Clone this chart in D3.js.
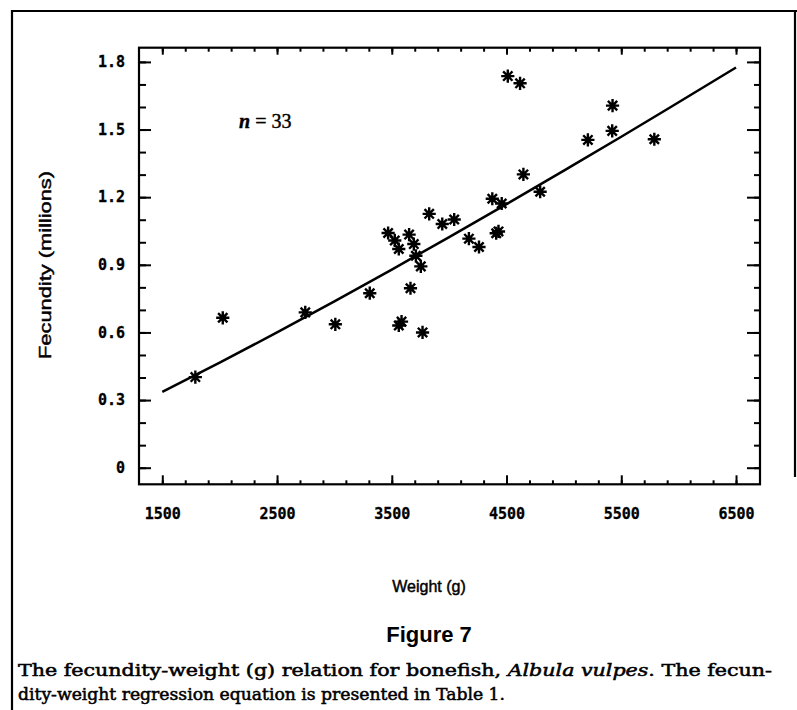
<!DOCTYPE html>
<html>
<head>
<meta charset="utf-8">
<script src="https://cdn.jsdelivr.net/npm/d3@7"></script>
<style>
  html, body { margin: 0; padding: 0; background: #fff; }
  svg { display: block; }
</style>
</head>
<body>
<svg id="chart" width="797" height="710"></svg>
<script>
// ---------- data ----------
const weight = [1788, 2027, 2746, 3008, 3308, 3468, 3526, 3561, 3651, 3692, 3710,
  3753, 3663, 3585, 3561, 3768, 3826, 3940, 4044, 4172, 4260, 4410, 4430, 4376,
  4458, 4511, 4618, 4647, 4793, 5209, 5421, 5424, 5788];
const fecundity = [0.402, 0.665, 0.689, 0.636, 0.774, 1.041, 1.008, 0.970, 1.034,
  0.992, 0.940, 0.893, 0.796, 0.648, 0.631, 0.600, 1.126, 1.081, 1.101, 1.016,
  0.979, 1.040, 1.048, 1.193, 1.172, 1.737, 1.705, 1.301, 1.224, 1.454, 1.494,
  1.606, 1.457];
// regression curve, read at regular weights
const fitWeight = [1500, 2000, 2500, 3000, 3500, 4000, 4500, 5000, 5500, 6000, 6500];
const fitFecundity = [0.336, 0.466, 0.600, 0.738, 0.879, 1.023, 1.169, 1.318, 1.468, 1.621, 1.775];

const xTicks = [1500, 2500, 3500, 4500, 5500, 6500];
const xMinorTicks = [1500, 1700, 1900, 2100, 2300, 2500, 2700, 2900, 3100, 3300, 3500,
  3700, 3900, 4100, 4300, 4500, 4700, 4900, 5100, 5300, 5500, 5700, 5900, 6100, 6300, 6500];
const yTicks = [0, 0.3, 0.6, 0.9, 1.2, 1.5, 1.8];
const yTickLabels = ["0", "0.3", "0.6", "0.9", "1.2", "1.5", "1.8"];
const yMinorTicks = [0, 0.1, 0.2, 0.3, 0.4, 0.5, 0.6, 0.7, 0.8, 0.9, 1.0, 1.1, 1.2,
  1.3, 1.4, 1.5, 1.6, 1.7, 1.8];

const xTitle = "Weight (g)";
const yTitle = "Fecundity (millions)";
const nLabel = "33";
const figTitle = "Figure 7";

// ---------- layout ----------
const svg = d3.select("#chart");
const L = 139, R = 760, T = 47.7, B = 484.3;

const x = d3.scaleLinear().domain([1297, 6709]).range([L, R]);
const y = d3.scaleLinear().domain([-0.0736, 1.863]).range([B, T]);

const monoFont = "'DejaVu Sans Mono', 'Liberation Mono', monospace";

function styleAxis(g) {
  g.select(".domain").remove();
  g.selectAll(".tick line").attr("stroke", "#000").attr("stroke-width", 2);
  g.selectAll("text").attr("fill", "#000");
}

// outer figure border
svg.append("path")
  .attr("d", "M12,710 L12,11 L797,11 M795,11 L795,477")
  .attr("fill", "none").attr("stroke", "#000").attr("stroke-width", 2.2);

// minor ticks
svg.append("g").attr("transform", `translate(0,${B})`)
  .call(d3.axisBottom(x).tickValues(xMinorTicks).tickSize(-4).tickFormat(""))
  .call(styleAxis);
svg.append("g").attr("transform", `translate(0,${T})`)
  .call(d3.axisTop(x).tickValues(xMinorTicks).tickSize(-4).tickFormat(""))
  .call(styleAxis);
svg.append("g").attr("transform", `translate(${L},0)`)
  .call(d3.axisLeft(y).tickValues(yMinorTicks).tickSize(-7).tickFormat(""))
  .call(styleAxis);
svg.append("g").attr("transform", `translate(${R},0)`)
  .call(d3.axisRight(y).tickValues(yMinorTicks).tickSize(-6).tickFormat(""))
  .call(styleAxis);

// major ticks
svg.append("g").attr("transform", `translate(0,${B})`)
  .call(d3.axisBottom(x).tickValues(xTicks).tickSize(-9).tickPadding(24).tickFormat(d3.format("d")))
  .call(styleAxis)
  .call(g => g.selectAll("text").attr("font-family", monoFont)
    .attr("font-weight", "bold").attr("font-size", 15)
    .attr("stroke", "#000").attr("stroke-width", 0.3));
svg.append("g").attr("transform", `translate(0,${T})`)
  .call(d3.axisTop(x).tickValues(xTicks).tickSize(-7).tickFormat(""))
  .call(styleAxis);
svg.append("g").attr("transform", `translate(${L},0)`)
  .call(d3.axisLeft(y).tickValues(yTicks).tickSize(-12).tickPadding(14)
    .tickFormat((d, i) => yTickLabels[i]))
  .call(styleAxis)
  .call(g => g.selectAll("text").attr("font-family", monoFont)
    .attr("font-weight", "bold").attr("font-size", 15)
    .attr("stroke", "#000").attr("stroke-width", 0.3));
svg.append("g").attr("transform", `translate(${R},0)`)
  .call(d3.axisRight(y).tickValues(yTicks).tickSize(-13).tickFormat(""))
  .call(styleAxis);

// plot frame
svg.append("rect")
  .attr("x", L).attr("y", T).attr("width", R - L).attr("height", B - T)
  .attr("fill", "none").attr("stroke", "#000").attr("stroke-width", 2.2);

// regression curve
const fitData = fitWeight.map((w, i) => [w, fitFecundity[i]]);
svg.append("path")
  .datum(fitData)
  .attr("d", d3.line().x(d => x(d[0])).y(d => y(d[1])).curve(d3.curveMonotoneX))
  .attr("fill", "none").attr("stroke", "#000").attr("stroke-width", 2.5);

// asterisk markers
const r = 6.6;
const starPath = (() => {
  let p = "";
  for (let k = 0; k < 4; k++) {
    const a = k * Math.PI / 4;
    const dx = r * Math.cos(a), dy = r * Math.sin(a);
    p += `M${(-dx).toFixed(2)},${(-dy).toFixed(2)}L${dx.toFixed(2)},${dy.toFixed(2)}`;
  }
  return p;
})();
svg.append("g").selectAll("path")
  .data(weight.map((w, i) => [w, fecundity[i]]))
  .join("path")
  .attr("transform", d => `translate(${x(d[0])},${y(d[1])})`)
  .attr("d", starPath)
  .attr("fill", "none").attr("stroke", "#000").attr("stroke-width", 2.4)
  .attr("stroke-linecap", "butt");

// n = 33
const nText = svg.append("text")
  .attr("x", 239).attr("y", 128)
  .attr("font-family", "'Liberation Serif', 'Times New Roman', serif")
  .attr("font-size", 20).attr("fill", "#000")
  .attr("stroke", "#000").attr("stroke-width", 0.4);
nText.append("tspan").attr("font-style", "italic").attr("font-weight", "bold").text("n");
nText.append("tspan").text(" = " + nLabel);

// axis titles
svg.append("text")
  .attr("transform", "translate(51,265) rotate(-90)")
  .attr("text-anchor", "middle")
  .attr("font-family", "'Liberation Sans', Arial, sans-serif")
  .attr("font-size", 17).attr("fill", "#000")
  .attr("stroke", "#000").attr("stroke-width", 0.45)
  .attr("textLength", 188).attr("lengthAdjust", "spacingAndGlyphs")
  .text(yTitle);

svg.append("text")
  .attr("x", 429).attr("y", 592)
  .attr("text-anchor", "middle")
  .attr("font-family", "'Liberation Sans', Arial, sans-serif")
  .attr("font-size", 16).attr("fill", "#000")
  .attr("stroke", "#000").attr("stroke-width", 0.45)
  .text(xTitle);

// figure label
svg.append("text")
  .attr("x", 429).attr("y", 642)
  .attr("text-anchor", "middle")
  .attr("font-family", "'Liberation Sans', Arial, sans-serif")
  .attr("font-weight", "bold")
  .attr("font-size", 22).attr("fill", "#000")
  .text(figTitle);

// caption
const capFont = "'DejaVu Serif', 'Liberation Serif', serif";
const c1 = svg.append("text")
  .attr("x", 18).attr("y", 676)
  .attr("font-family", capFont).attr("font-size", 16)
  .attr("fill", "#000").attr("stroke", "#000").attr("stroke-width", 0.5)
  .attr("textLength", 754).attr("lengthAdjust", "spacingAndGlyphs");
c1.append("tspan").text("The fecundity-weight (g) relation for bonefish, ");
c1.append("tspan").attr("font-style", "italic").text("Albula vulpes");
c1.append("tspan").text(". The fecun-");

svg.append("text")
  .attr("x", 18).attr("y", 700)
  .attr("font-family", capFont).attr("font-size", 16)
  .attr("fill", "#000").attr("stroke", "#000").attr("stroke-width", 0.5)
  .attr("textLength", 487).attr("lengthAdjust", "spacingAndGlyphs")
  .text("dity-weight regression equation is presented in Table 1.");
</script>
</body>
</html>
